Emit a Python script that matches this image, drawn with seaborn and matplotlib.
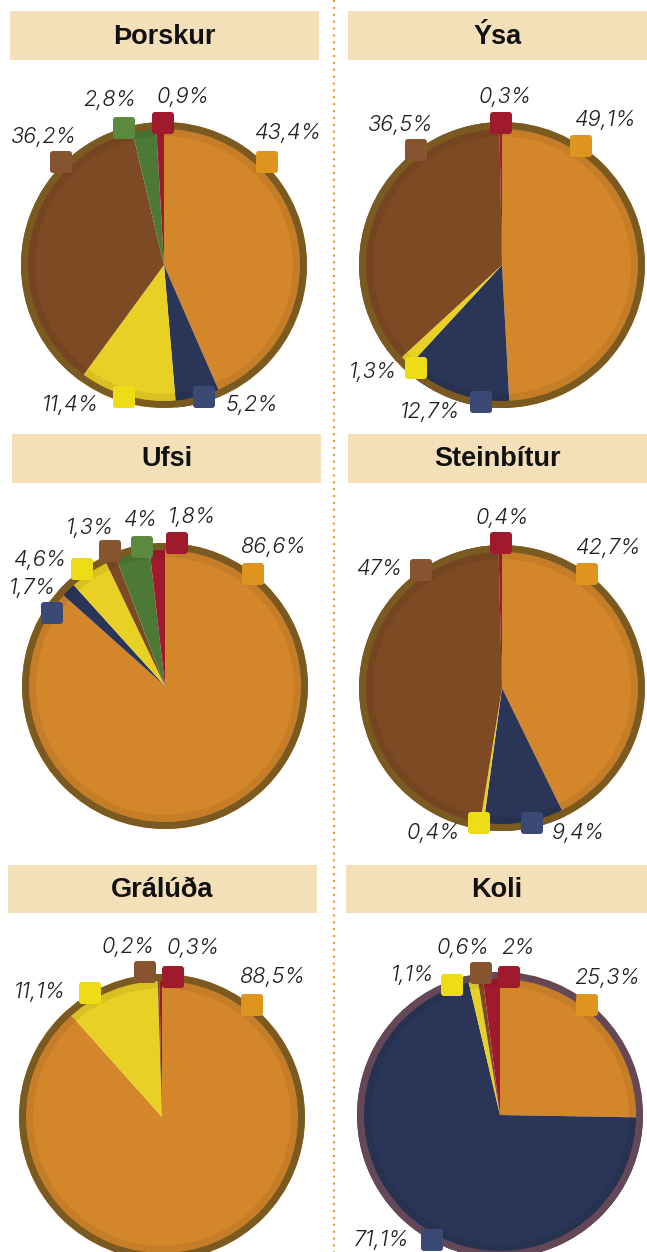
import matplotlib
matplotlib.use("Agg")
import matplotlib.pyplot as plt
from matplotlib.patches import Circle, Rectangle, FancyBboxPatch
import seaborn as sns

# ---------------- data ----------------
species = ["Þorskur", "Ýsa", "Ufsi", "Steinbítur", "Grálúða", "Koli"]
categories = ["A", "B", "C", "D", "E", "F"]  # orange, navy, yellow, brown, green, red

thorskur = [43.4, 5.2, 11.4, 36.2, 2.8, 0.9]
ysa = [49.1, 12.7, 1.3, 36.5, None, 0.3]
ufsi = [86.6, 1.7, 4.6, 1.3, 4.0, 1.8]
steinbitur = [42.7, 9.4, 0.4, 47.0, None, 0.4]
graluda = [88.5, None, 11.1, 0.2, None, 0.3]
koli = [25.3, 71.1, 1.1, 0.6, None, 2.0]
values = [thorskur, ysa, ufsi, steinbitur, graluda, koli]

# ---------------- style ----------------
sns.set_theme(style="white")
plt.rcParams["font.family"] = ["Liberation Sans", "DejaVu Sans"]

pie_colors = sns.color_palette(["#D4872A", "#2A3557", "#E9D024", "#7E4A24", "#4C7A36", "#A01A2C"])
marker_colors = sns.color_palette(["#DD9520", "#3A4A75", "#EEDC17", "#86552F", "#5B8A3F", "#A01A2E"])
ring_colors = ["#7B5A22"] * 5 + ["#654858"]
box_color = "#F3E0B9"

W, H = 647, 1252
R = 143

# layout (pixel positions)
centers = [(164, 265), (502, 265), (165, 686), (502, 688), (162, 1117), (500, 1115)]
col_ranges = [(0, 308), (338, 647)] * 3
title_boxes = [(10, 11, 319, 60), (348, 11, 647, 60), (12, 434, 321, 483),
               (348, 434, 647, 483), (8, 865, 317, 913), (346, 865, 647, 913)]
# per species: category index -> (marker x, marker y, text x, text y)
label_layout = [
    {0: (267, 162, 287, 133), 1: (204, 397, 252, 405), 2: (124, 397, 70, 405),
     3: (61, 162, 43, 137), 4: (124, 128, 110, 100), 5: (163, 123, 183, 97)},
    {0: (581, 146, 605, 120), 1: (481, 402, 430, 412), 2: (416, 368, 373, 372),
     3: (416, 150, 400, 125), 5: (501, 123, 505, 97)},
    {0: (253, 574, 273, 547), 1: (52, 613, 32, 588), 2: (82, 569, 40, 560),
     3: (110, 551, 90, 528), 4: (142, 547, 140, 520), 5: (177, 543, 192, 517)},
    {0: (587, 574, 608, 548), 1: (532, 823, 578, 833), 2: (479, 823, 433, 833),
     3: (421, 570, 379, 569), 5: (501, 543, 502, 518)},
    {0: (252, 1005, 272, 977), 2: (90, 993, 40, 992), 3: (145, 972, 128, 947),
     5: (173, 977, 193, 948)},
    {0: (587, 1005, 607, 978), 1: (432, 1240, 382, 1240), 2: (452, 985, 413, 975),
     3: (481, 973, 463, 948), 5: (509, 977, 518, 948)},
]


def fmt(v):
    return f"{v:g}".replace(".", ",") + "%"


fig = plt.figure(figsize=(W / 100, H / 100), dpi=100)
fig.patch.set_facecolor("white")

# pies
for i, vals in enumerate(values):
    cx, cy = centers[i]
    x0, x1 = col_ranges[i]
    y0, y1 = cy - 170, cy + 170
    ax = fig.add_axes([x0 / W, 1 - y1 / H, (x1 - x0) / W, (y1 - y0) / H])
    idx = [k for k, v in enumerate(vals) if v is not None]
    ax.pie([vals[k] for k in idx], colors=[pie_colors[k] for k in idx],
           startangle=90, counterclock=False, radius=R, center=(0, 0), frame=True,
           wedgeprops=dict(linewidth=0))
    # soft inner shading and outer ring
    ax.add_patch(Circle((0, 0), R - 10, fill=False, ec="black", alpha=0.07, lw=6))
    ax.add_patch(Circle((0, 0), R - 3.5, fill=False, ec=ring_colors[i], lw=5.0))
    ax.set_xlim(x0 - cx, x1 - cx)
    ax.set_ylim(-170, 170)
    ax.axis("off")

# overlay: titles, separators, labels
ov = fig.add_axes([0, 0, 1, 1])
ov.set_xlim(0, W)
ov.set_ylim(H, 0)
ov.axis("off")

ov.plot([334, 334], [0, H], color="#E39B2E", lw=1.5, linestyle=(0, (1, 2.3)))

for i, name in enumerate(species):
    bx0, by0, bx1, by1 = title_boxes[i]
    ov.add_patch(Rectangle((bx0, by0), bx1 - bx0, by1 - by0, fc=box_color, ec="none"))
    ov.text((bx0 + bx1) / 2, (by0 + by1) / 2 + 1, name, ha="center", va="center",
            fontsize=19.5, fontweight="bold", color="#111111")
    for k, (mx, my, tx, ty) in label_layout[i].items():
        ov.add_patch(FancyBboxPatch((mx - 11, my - 11), 22, 22,
                                    boxstyle="round,pad=0,rounding_size=3",
                                    fc=marker_colors[k], ec="none"))
        ov.text(tx, ty, fmt(values[i][k]), ha="center", va="center", fontsize=15.6,
                style="italic", fontweight=300, color="#1e1e1e",
                family=["Inter", "DejaVu Sans"])

fig.savefig("out.png", dpi=100)
